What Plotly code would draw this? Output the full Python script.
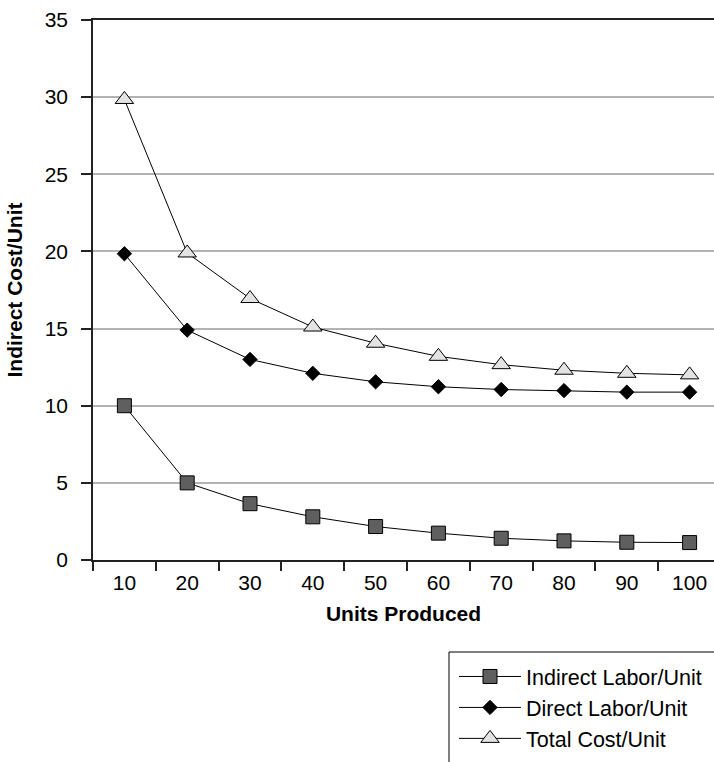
import plotly.graph_objects as go

units = [10, 20, 30, 40, 50, 60, 70, 80, 90, 100]
tick_labels = ["10", "20", "30", "40", "50", "60", "70", "80", "90", "100"]
indirect = [10.0, 5.0, 3.65, 2.8, 2.17, 1.74, 1.41, 1.24, 1.15, 1.13]
direct = [19.85, 14.9, 13.0, 12.1, 11.55, 11.23, 11.05, 10.98, 10.88, 10.88]
total = [29.85, 19.9, 16.95, 15.1, 14.05, 13.2, 12.66, 12.3, 12.1, 12.0]

W, H = 714, 762
ML, MR, MT, MB = 93, 0, 20, 202
PW, PH = W - ML - MR, H - MT - MB

def px2x(px):
    return (px - ML) / PW

def py2y(py):
    return (H - MB - py) / PH

FONT = "Liberation Sans, Arial, Helvetica, sans-serif"

fig = go.Figure()
fig.add_trace(go.Scatter(
    x=units, y=indirect, name="Indirect Labor/Unit", mode="lines+markers",
    line=dict(color="black", width=1),
    marker=dict(symbol="square", size=14, color="#5f5f5f", line=dict(color="black", width=1)),
))
fig.add_trace(go.Scatter(
    x=units, y=direct, name="Direct Labor/Unit", mode="lines+markers",
    line=dict(color="black", width=1),
    marker=dict(symbol="diamond", size=11, color="black", line=dict(color="black", width=1)),
))
fig.add_trace(go.Scatter(
    x=units, y=total, name="Total Cost/Unit", mode="lines+markers",
    line=dict(color="black", width=1),
    marker=dict(symbol="triangle-up", size=16, color="#e3e3e3", line=dict(color="black", width=1)),
))

# legend box
fig.add_shape(type="rect", xref="paper", yref="paper",
              x0=px2x(449), x1=px2x(730), y0=py2y(652), y1=py2y(780),
              line=dict(color="black", width=1), fillcolor="white", layer="below")

fig.update_layout(
    width=W, height=H,
    margin=dict(l=ML, r=MR, t=MT, b=MB, pad=0),
    paper_bgcolor="white", plot_bgcolor="white",
    font=dict(family=FONT, size=21, color="black"),
    showlegend=True,
    legend=dict(x=px2x(454), y=py2y(656), xanchor="left", yanchor="top",
                bgcolor="rgba(0,0,0,0)", borderwidth=0,
                font=dict(size=21.5, family=FONT), itemwidth=62,
                tracegroupgap=0),
    xaxis=dict(
        range=[5, 5 + PW / 6.28], tickvals=units, ticktext=tick_labels,
        ticks="", showgrid=False, zeroline=False,
        showline=True, linecolor="#222", linewidth=1.5, mirror=True,
        tickfont=dict(size=21), ticklabelstandoff=3,
        minor=dict(tickvals=[5, 15, 25, 35, 45, 55, 65, 75, 85, 95],
                   ticks="outside", ticklen=9, tickcolor="#222", tickwidth=1.5, showgrid=False),
        title=dict(text="<b>Units Produced</b>", font=dict(size=21), standoff=13),
    ),
    yaxis=dict(
        range=[0, 35], tickvals=[0, 5, 10, 15, 20, 25, 30, 35],
        ticks="outside", ticklen=10, tickcolor="#222", tickwidth=1.5,
        showgrid=True, gridcolor="#b3b3b3", gridwidth=1.5, zeroline=False,
        showline=True, linecolor="#222", linewidth=1.5,
        tickfont=dict(size=21), ticklabelstandoff=9,
        title=dict(text="<b>Indirect Cost/Unit</b>", font=dict(size=21), standoff=16),
    ),
)

fig.write_html("out.html")
